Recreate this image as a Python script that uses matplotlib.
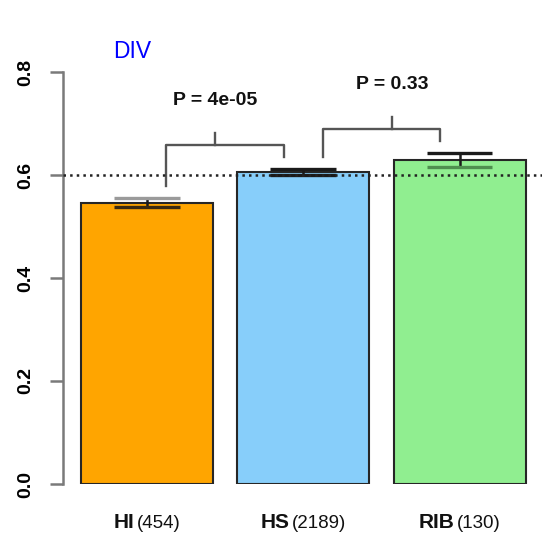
import matplotlib
matplotlib.use("Agg")
import matplotlib.pyplot as plt
from matplotlib.offsetbox import TextArea, HPacker, AnnotationBbox

plt.rcParams['font.family'] = ['Liberation Sans', 'DejaVu Sans']

# ---- data ----
groups = ["HI", "HS", "RIB"]
counts = ["(454)", "(2189)", "(130)"]
means = [0.546, 0.606, 0.629]
errs = [0.009, 0.006, 0.014]
bar_colors = ["#FFA500", "#87CEFA", "#90EE90"]
upper_cap_colors = ["#9a9a9a", "#1a1a1a", "#1a1a1a"]
lower_cap_colors = ["#3a2a10", "#1a1a1a", "#4f8f4f"]
ref_line = 0.6
yticks = [0.0, 0.2, 0.4, 0.6, 0.8]
ytick_labels = ["0.0", "0.2", "0.4", "0.6", "0.8"]
title = "DIV"

# significance brackets
br_left = [0.122, 1.126]
br_right = [0.877, 1.875]
br_tick = [0.435, 1.568]
br_y = [0.658, 0.689]
br_left_foot = [0.578, 0.635]
br_right_foot = [0.635, 0.666]
br_tick_top = [0.682, 0.713]
p_y = [0.745, 0.775]
p_text = ["P = 4e-05", "P = 0.33"]

W, H = 542, 538
fig = plt.figure(figsize=(W / 100, H / 100), dpi=100)
px_per_unit_y = 515.0
ax_left, ax_bottom_px = 63, 484
ax = fig.add_axes([ax_left / W, (H - ax_bottom_px) / H, (W - ax_left) / W, ax_bottom_px / H])
ax.set_xlim(-0.538, 2.528)
ax.set_ylim(0, ax_bottom_px / px_per_unit_y)

x = list(range(len(groups)))
ax.bar(x, means, width=0.845, color=bar_colors, edgecolor="#262626", linewidth=1.5, zorder=2)

# error bars
lo = [m - e for m, e in zip(means, errs)]
hi = [m + e for m, e in zip(means, errs)]
ax.vlines(x, lo, hi, colors="#1a1a1a", linewidth=1.8, zorder=4)
cap = 0.21
ax.hlines(hi, [xi - cap for xi in x], [xi + cap for xi in x], colors=upper_cap_colors, linewidth=2.4, zorder=4)
ax.hlines(lo, [xi - cap for xi in x], [xi + cap for xi in x], colors=lower_cap_colors, linewidth=2.4, zorder=4)

# reference dotted line
ax.plot([-0.538, 2.528], [ref_line, ref_line], linestyle=":", color="#222222", linewidth=1.8, zorder=5,
        clip_on=False)

# brackets
bc = "#555555"
for i in range(len(p_text)):
    ax.plot([br_left[i], br_left[i], br_right[i], br_right[i]],
            [br_left_foot[i], br_y[i], br_y[i], br_right_foot[i]], color=bc, linewidth=1.7, zorder=3)
    ax.plot([br_tick[i], br_tick[i]], [br_y[i], br_tick_top[i]], color=bc, linewidth=1.7, zorder=3)
    ax.text(br_tick[i], p_y[i], p_text[i], ha="center", va="center", fontsize=14,
            fontweight="bold", color="#111111")

# title
fig.text(113 / W, 1 - 51.5 / H, title, ha="left", va="center", fontsize=16.5, color="#0000FF")

# axes styling
for s in ["top", "right", "bottom"]:
    ax.spines[s].set_visible(False)
ax.spines["left"].set_bounds(0, 0.8)
ax.spines["left"].set_color("#7a7a7a")
ax.spines["left"].set_linewidth(1.8)
ax.set_xticks([])
ax.set_yticks(yticks)
ax.set_yticklabels(ytick_labels, rotation=90, va="center", fontsize=14, fontweight="bold")
ax.tick_params(axis="y", length=9.4, width=1.8, color="#7a7a7a", pad=11)

# x labels
for xi, g, c in zip(x, groups, counts):
    t1 = TextArea(g, textprops=dict(fontsize=15, fontweight="bold", color="#111111"))
    t2 = TextArea(c, textprops=dict(fontsize=13.5, color="#111111"))
    pk = HPacker(children=[t1, t2], align="baseline", pad=0, sep=2)
    ab = AnnotationBbox(pk, (xi, -38 / px_per_unit_y), xycoords="data", frameon=False,
                        box_alignment=(0.5, 0.5), annotation_clip=False)
    ax.add_artist(ab)

fig.savefig("out.png", dpi=100)
